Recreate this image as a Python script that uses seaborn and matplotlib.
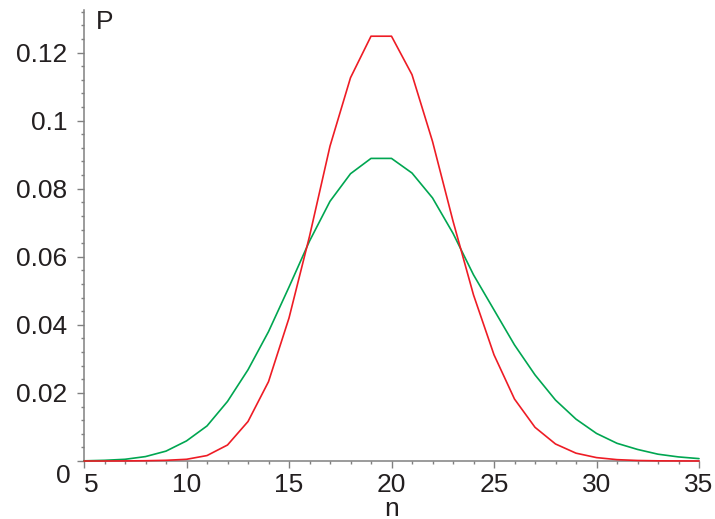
import matplotlib
matplotlib.use("Agg")
import matplotlib.pyplot as plt
import seaborn as sns
import pandas as pd
from matplotlib.ticker import MultipleLocator

# values, n = 5 .. 35
n_values = list(range(5, 36))
p_red = [0.0, 0.0, 0.00002, 0.00008, 0.0002, 0.0005, 0.0016, 0.0047, 0.0116, 0.0233,
         0.0420, 0.0660, 0.0925, 0.1126, 0.1248, 0.1248, 0.1135, 0.0939, 0.0705, 0.0488,
         0.0312, 0.0182, 0.0099, 0.0050, 0.0023, 0.0010, 0.0004, 0.00015, 0.00005, 0.00002,
         0.0]
p_green = [0.00005, 0.0002, 0.0005, 0.0013, 0.0029, 0.0059, 0.0103, 0.0175, 0.0268, 0.0380,
           0.0511, 0.0646, 0.0763, 0.0844, 0.0889, 0.0889, 0.0846, 0.0773, 0.0669, 0.0547,
           0.0444, 0.0341, 0.0253, 0.0179, 0.0123, 0.0081, 0.0052, 0.0034, 0.0020, 0.0012,
           0.0007]

y_ticks = [0, 0.02, 0.04, 0.06, 0.08, 0.10, 0.12]
y_tick_labels = ["", "0.02", "0.04", "0.06", "0.08", "0.1", "0.12"]
x_ticks = [5, 10, 15, 20, 25, 30, 35]

df = pd.DataFrame({"n": n_values, "red": p_red, "green": p_green})

sns.set_theme(style="white")
plt.rcParams["font.family"] = ["Liberation Sans", "DejaVu Sans"]
text_color = "#231f20"
axis_color = "#808080"

fig = plt.figure(figsize=(7.15, 5.19), dpi=100)
ax = fig.add_axes([84 / 715, 58 / 519, 615 / 715, 451 / 519])

sns.lineplot(data=df, x="n", y="green", color="#00a651", linewidth=1.2,
             ax=ax, clip_on=False, zorder=3)
sns.lineplot(data=df, x="n", y="red", color="#ee1c25", linewidth=1.2,
             ax=ax, clip_on=False, zorder=4)

ax.set_xlim(5, 35)
ax.set_ylim(0, 0.1325)

ax.set_xticks(x_ticks)
ax.set_xticklabels([str(t) for t in x_ticks])
ax.xaxis.set_minor_locator(MultipleLocator(1))
ax.set_yticks(y_ticks)
ax.set_yticklabels(y_tick_labels)
ax.yaxis.set_minor_locator(MultipleLocator(0.004))

ax.tick_params(which="both", direction="out", colors=axis_color, labelcolor=text_color,
               labelsize=19, width=1.0)
ax.tick_params(which="major", length=5)
ax.tick_params(which="minor", length=2.5)
ax.tick_params(axis="y", which="major", pad=7)
ax.tick_params(axis="x", which="major", pad=4)
ax.tick_params(axis="x", which="both", bottom=True)
ax.tick_params(axis="y", which="both", left=True)

# first x label sits to the right of its tick, like the original
ax.get_xticklabels()[0].set_horizontalalignment("left")

for side in ["top", "right"]:
    ax.spines[side].set_visible(False)
for side in ["left", "bottom"]:
    ax.spines[side].set_color(axis_color)
    ax.spines[side].set_linewidth(1.1)

ax.set_xlabel("n", fontsize=19, color=text_color, labelpad=0)
ax.set_ylabel("")
ax.annotate("0", xy=(0, 0), xycoords="axes fraction", xytext=(-13, -3),
            textcoords="offset pixels", ha="right", va="top",
            fontsize=19, color=text_color)
ax.annotate("P", xy=(0, 1), xycoords="axes fraction", xytext=(12, 0),
            textcoords="offset pixels", ha="left", va="top",
            fontsize=19, color=text_color)

fig.savefig("out.png", dpi=100)
plt.close(fig)
